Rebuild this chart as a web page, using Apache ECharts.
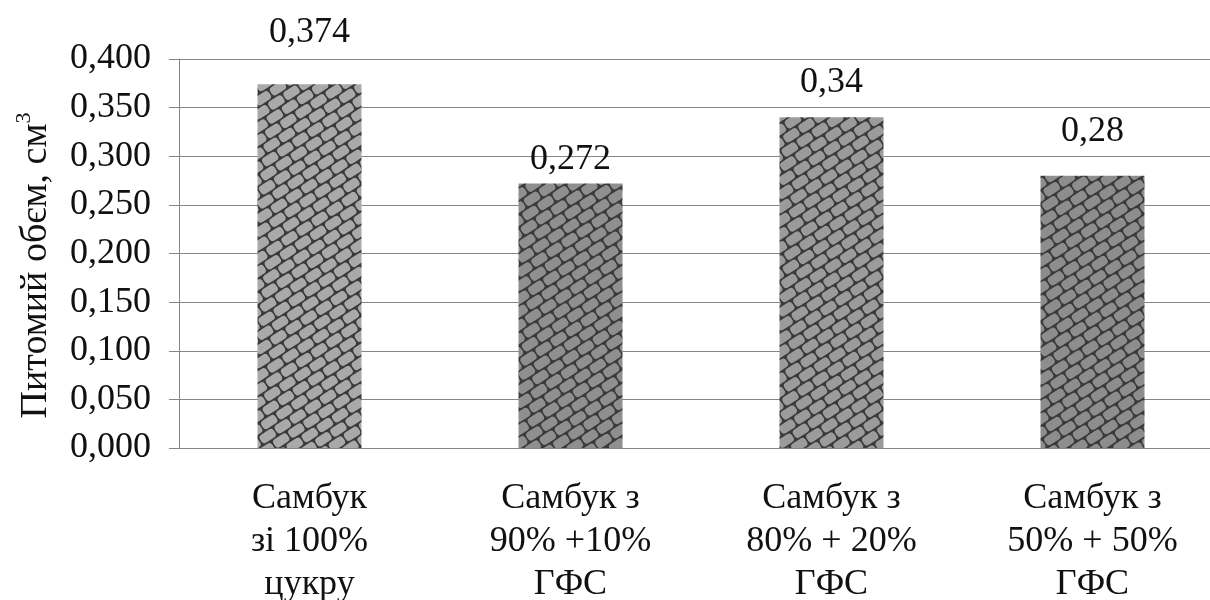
<!DOCTYPE html>
<html>
<head>
<meta charset="utf-8">
<script src="https://cdn.jsdelivr.net/npm/echarts@6/dist/echarts.min.js"></script>
<style>
  html, body { margin: 0; padding: 0; background: #fff; }
  #chart { width: 1210px; height: 600px; }
</style>
</head>
<body>
<div id="chart"></div>
<script>
// Chart data
const categories = [
  'Самбук\nзі 100%\nцукру',
  'Самбук з\n90% +10%\nГФС',
  'Самбук з\n80% + 20%\nГФС',
  'Самбук з\n50% + 50%\nГФС'
];
const values = [0.374, 0.272, 0.34, 0.28];
const yTicks = { min: 0, max: 0.4, step: 0.05 };
const axisTitle = 'Питомий обєм, см';

// Styling: per-bar fill tone and how far each value label sits above its bar
const barFills = ['#a9a9a9', '#8f8f8f', '#9b9b9b', '#8d8d8d'];
const labelGaps = [34, 6, 17, 26];

// Brick texture: gray rounded bricks on dark mortar, rows tilted up to the right.
// All bricks go into one path so the canvas is filled only once.
function brickTexture(fill) {
  const c = document.createElement('canvas');
  c.width = 1210; c.height = 600;
  const ctx = c.getContext('2d');
  ctx.fillStyle = '#3a3a3a';
  ctx.fillRect(0, 0, c.width, c.height);
  ctx.save();
  ctx.rotate(-33 * Math.PI / 180);
  const L = 18, H = 11, gap = 0.8, r = 3.5;
  ctx.beginPath();
  for (let row = -10; row < 120; row++) {
    const v = row * H;
    const off = (row % 2 === 0) ? 0 : L / 2;
    for (let u = -400 - off; u < 1100; u += L) {
      const x = u + gap, y = v + gap, w = L - 2 * gap, h = H - 2 * gap;
      ctx.moveTo(x + r, y);
      ctx.arcTo(x + w, y, x + w, y + h, r);
      ctx.arcTo(x + w, y + h, x, y + h, r);
      ctx.arcTo(x, y + h, x, y, r);
      ctx.arcTo(x, y, x + w, y, r);
      ctx.closePath();
    }
  }
  ctx.fillStyle = fill;
  ctx.fill();
  ctx.restore();
  return c;
}

const textures = barFills.map(brickTexture);

const serif = '"Liberation Serif", "DejaVu Serif", serif';
const chart = echarts.init(document.getElementById('chart'), null, { renderer: 'canvas' });

chart.setOption({
  animation: false,
  backgroundColor: '#ffffff',
  grid: { left: 179, right: -13, top: 59, bottom: 152, containLabel: false, outerBoundsMode: 'none' },
  xAxis: {
    type: 'category',
    data: categories,
    axisLine: { lineStyle: { color: '#868686', width: 1 } },
    axisTick: { show: false },
    axisLabel: {
      fontFamily: serif, fontSize: 36, color: '#111', lineHeight: 43, margin: 29, interval: 0
    }
  },
  yAxis: {
    type: 'value',
    min: yTicks.min, max: yTicks.max, interval: yTicks.step,
    name: '{t|' + axisTitle + '}{s|3}',
    nameLocation: 'middle',
    nameRotate: 90,
    nameGap: 124,
    nameTextStyle: {
      fontFamily: serif, fontSize: 38, color: '#111',
      padding: [0, 24, 0, 0],
      rich: {
        t: { fontFamily: serif, fontSize: 38, color: '#111', lineHeight: 42, verticalAlign: 'bottom' },
        s: { fontFamily: serif, fontSize: 22, color: '#111', lineHeight: 42, verticalAlign: 'top' }
      }
    },
    axisLine: { show: true, lineStyle: { color: '#868686', width: 1 } },
    axisTick: { show: true, length: 10, lineStyle: { color: '#868686' } },
    splitLine: { lineStyle: { color: '#868686', width: 1 } },
    axisLabel: {
      fontFamily: serif, fontSize: 36, color: '#111', margin: 28,
      formatter: v => v.toFixed(3).replace('.', ',')
    }
  },
  series: [{
    type: 'bar',
    barWidth: 104,
    data: values.map((v, i) => ({
      value: v,
      itemStyle: { color: { image: textures[i], repeat: 'no-repeat' } },
      label: { distance: labelGaps[i] }
    })),
    label: {
      show: true, position: 'top',
      fontFamily: serif, fontSize: 36, color: '#111',
      formatter: p => String(p.value).replace('.', ',')
    }
  }]
});
</script>
</body>
</html>
